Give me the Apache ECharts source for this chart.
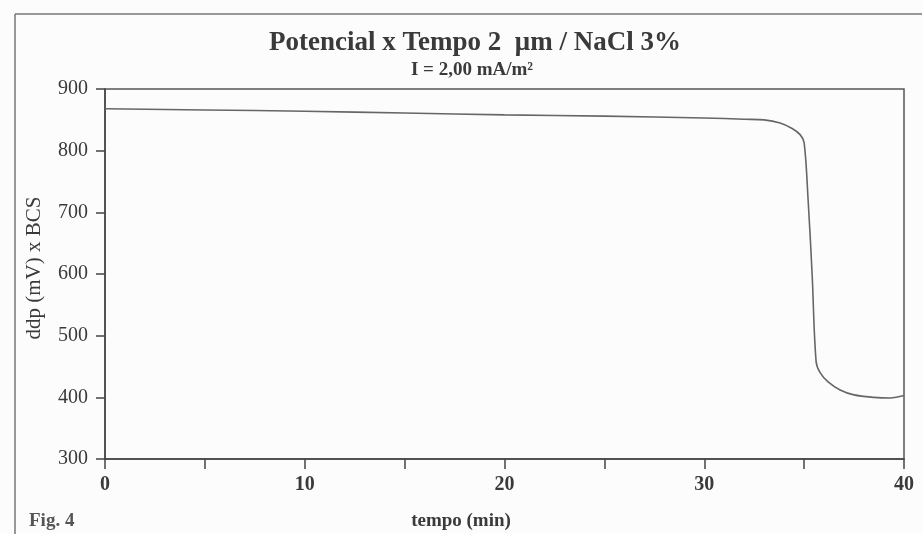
<!DOCTYPE html>
<html>
<head>
<meta charset="utf-8">
<script src="https://cdn.jsdelivr.net/npm/echarts@6/dist/echarts.min.js"></script>
<style>
  html, body { margin: 0; padding: 0; background: #fcfcfc; }
  #chart { width: 922px; height: 534px; }
</style>
</head>
<body>
<div id="chart"></div>
<script>
// Time (min) and potential (mV vs SCE) readings
const tempo = [0, 5, 10, 15, 20, 25, 30, 32, 33, 33.8, 34.4, 34.8, 35.0, 35.2, 35.4, 35.6, 35.8, 36.2, 36.8, 37.5, 38.5, 39.3, 40];
const ddp   = [868, 866, 864, 861, 858, 856, 853, 851, 850, 845, 836, 826, 813, 720, 600, 458, 440, 425, 412, 404, 400, 399, 403];

const xTicks = [0, 10, 20, 30, 40];
const yTicks = [300, 400, 500, 600, 700, 800, 900];

const serif = '"Liberation Serif", "DejaVu Serif", serif';
const ink = '#3a3a3a';

const chart = echarts.init(document.getElementById('chart'), null, { renderer: 'canvas' });

function label(x, y, text, font, extra) {
  return Object.assign({
    type: 'text', x: x, y: y,
    style: { text: text, font: font, fill: ink, textAlign: 'center', textVerticalAlign: 'middle' }
  }, extra || {});
}

chart.setOption({
  backgroundColor: '#fcfcfc',
  animation: false,
  grid: {
    left: 105, right: 18, top: 89, bottom: 75,
    show: true, borderColor: '#555', borderWidth: 1.5, backgroundColor: 'transparent'
  },
  xAxis: {
    type: 'value',
    min: xTicks[0], max: xTicks[xTicks.length - 1], interval: 5,
    axisLine: { show: true, onZero: false, lineStyle: { color: '#444', width: 1.5 } },
    axisTick: { show: true, length: 10, lineStyle: { color: '#444', width: 1.5 } },
    axisLabel: {
      margin: 16, fontFamily: serif, fontSize: 20, fontWeight: 'bold', color: ink,
      formatter: v => (xTicks.indexOf(v) >= 0 ? String(v) : '')
    },
    splitLine: { show: false }
  },
  yAxis: {
    type: 'value',
    min: yTicks[0], max: yTicks[yTicks.length - 1], interval: 100,
    axisLine: { show: true, lineStyle: { color: '#444', width: 1.5 } },
    axisTick: { show: true, length: 9, lineStyle: { color: '#444', width: 1.5 } },
    axisLabel: { margin: 17, fontFamily: serif, fontSize: 20, color: ink },
    splitLine: { show: false }
  },
  series: [{
    type: 'line',
    data: tempo.map((t, i) => [t, ddp[i]]),
    showSymbol: false,
    smooth: 0.35,
    lineStyle: { color: '#666', width: 1.6 }
  }],
  graphic: [
    // outer frame of the figure
    { type: 'line', shape: { x1: 15, y1: 14, x2: 922, y2: 14 }, style: { stroke: '#777', lineWidth: 1.5 } },
    { type: 'line', shape: { x1: 15, y1: 14, x2: 15, y2: 534 }, style: { stroke: '#777', lineWidth: 1.5 } },
    // titles
    label(475, 43, 'Potencial x Tempo 2  \u03bcm / NaCl 3%', 'bold 27px ' + serif),
    label(472, 70, 'I = 2,00 mA/m\u00b2', 'bold 19px ' + serif),
    // axis names
    label(34, 268, 'ddp (mV) x BCS', '21px ' + serif, { rotation: Math.PI / 2 }),
    label(461, 521, 'tempo (min)', 'bold 19px ' + serif),
    { type: 'text', x: 29, y: 521, style: { text: 'Fig. 4', font: 'bold 19px ' + serif, fill: '#555', textAlign: 'left', textVerticalAlign: 'middle' } }
  ]
});
</script>
</body>
</html>
